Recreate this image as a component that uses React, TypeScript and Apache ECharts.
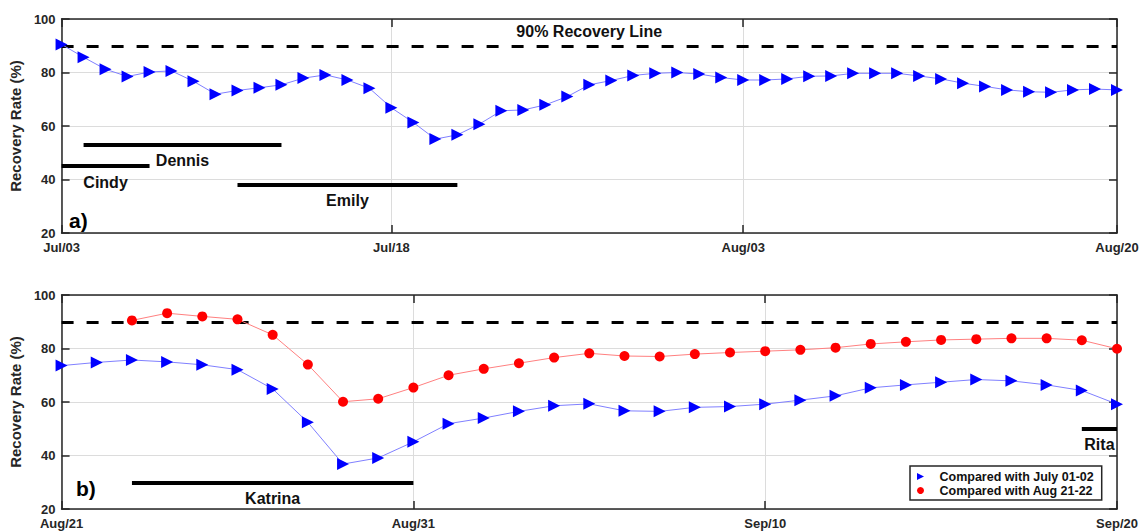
import { useEffect, useRef } from 'react';
import * as echarts from 'echarts';

// ---- Panel a): Jul 03 – Aug 20 ----
const topDays = [
  'Jul/03', 'Jul/04', 'Jul/05', 'Jul/06', 'Jul/07', 'Jul/08', 'Jul/09', 'Jul/10', 'Jul/11', 'Jul/12',
  'Jul/13', 'Jul/14', 'Jul/15', 'Jul/16', 'Jul/17', 'Jul/18', 'Jul/19', 'Jul/20', 'Jul/21', 'Jul/22',
  'Jul/23', 'Jul/24', 'Jul/25', 'Jul/26', 'Jul/27', 'Jul/28', 'Jul/29', 'Jul/30', 'Jul/31', 'Aug/01',
  'Aug/02', 'Aug/03', 'Aug/04', 'Aug/05', 'Aug/06', 'Aug/07', 'Aug/08', 'Aug/09', 'Aug/10', 'Aug/11',
  'Aug/12', 'Aug/13', 'Aug/14', 'Aug/15', 'Aug/16', 'Aug/17', 'Aug/18', 'Aug/19', 'Aug/20',
];
const topTickLabels = ['Jul/03', 'Jul/18', 'Aug/03', 'Aug/20'];
const topRecovery = [
  90.5, 85.7, 81.2, 78.5, 80.2, 80.6, 76.7, 71.9, 73.3, 74.3,
  75.4, 77.9, 79.1, 77.2, 74.1, 66.8, 61.3, 55.1, 56.7, 60.7,
  65.7, 66.0, 67.9, 71.0, 75.4, 77.0, 78.9, 79.7, 80.0, 79.4,
  78.1, 77.2, 77.2, 77.6, 78.6, 78.7, 79.7, 79.7, 79.7, 78.7,
  77.6, 76.0, 74.8, 73.5, 72.8, 72.6, 73.5, 73.8, 73.5,
];
const topStorms = [
  { name: 'Cindy', start: 'Jul/03', end: 'Jul/07', level: 45 },
  { name: 'Dennis', start: 'Jul/04', end: 'Jul/13', level: 53 },
  { name: 'Emily', start: 'Jul/11', end: 'Jul/21', level: 38 },
];

// ---- Panel b): Aug 21 – Sep 20 ----
const bottomDays = [
  'Aug/21', 'Aug/22', 'Aug/23', 'Aug/24', 'Aug/25', 'Aug/26', 'Aug/27', 'Aug/28', 'Aug/29', 'Aug/30',
  'Aug/31', 'Sep/01', 'Sep/02', 'Sep/03', 'Sep/04', 'Sep/05', 'Sep/06', 'Sep/07', 'Sep/08', 'Sep/09',
  'Sep/10', 'Sep/11', 'Sep/12', 'Sep/13', 'Sep/14', 'Sep/15', 'Sep/16', 'Sep/17', 'Sep/18', 'Sep/19',
  'Sep/20',
];
const bottomTickLabels = ['Aug/21', 'Aug/31', 'Sep/10', 'Sep/20'];
const vsJuly = [
  73.6, 74.8, 75.7, 75.0, 73.9, 72.1, 64.9, 52.4, 36.8, 39.1,
  45.1, 51.9, 54.0, 56.5, 58.6, 59.3, 56.7, 56.5, 58.0, 58.3,
  59.2, 60.7, 62.3, 65.3, 66.4, 67.4, 68.4, 67.9, 66.4, 64.3,
  59.2,
];
const vsAugust = [
  null, null, 90.5, 93.2, 92.0, 90.9, 85.1, 74.0, 60.1, 61.2,
  65.4, 70.0, 72.4, 74.5, 76.6, 78.2, 77.2, 77.0, 77.9, 78.5,
  79.0, 79.5, 80.3, 81.7, 82.5, 83.2, 83.5, 83.8, 83.8, 83.1,
  79.9,
];
const bottomStorms = [
  { name: 'Katrina', start: 'Aug/23', end: 'Aug/31', level: 30 },
  { name: 'Rita', start: 'Sep/19', end: 'Sep/20', level: 50 },
];

const recoveryTarget = 90;
const yTicks = { min: 20, max: 100, interval: 20 };

const SERIES_JULY = 'Compared with July 01-02';
const SERIES_AUG = 'Compared with Aug 21-22';

const FONT = 'Liberation Sans, Arial, Helvetica, sans-serif';
const AXIS_COLOR = '#262626';
const GRID_COLOR = '#dcdcdc';
const TRI_RIGHT = 'path://M0,0L10,5L0,10Z';

function xAxes(days: string[], ticks: string[], gridIndex: number) {
  const pick = (_i: number, v: string) => ticks.includes(v);
  const base = {
    type: 'category',
    gridIndex,
    data: days,
    boundaryGap: false,
    axisLine: { show: true, lineStyle: { color: AXIS_COLOR, width: 1.5 } },
    axisTick: { show: true, inside: true, length: 8, interval: pick, lineStyle: { color: AXIS_COLOR, width: 1.5 } },
  };
  return [
    {
      ...base,
      position: 'bottom',
      axisLabel: {
        show: true, interval: pick, margin: 8,
        fontFamily: FONT, fontWeight: 'bold', fontSize: 13, color: AXIS_COLOR,
      },
      splitLine: { show: true, interval: pick, lineStyle: { color: GRID_COLOR, width: 1 } },
    },
    {
      ...base,
      position: 'top',
      axisLabel: { show: false },
      splitLine: { show: false },
    },
  ];
}

function yAxes(gridIndex: number) {
  const base = {
    type: 'value',
    gridIndex,
    ...yTicks,
    axisLine: { show: true, lineStyle: { color: AXIS_COLOR, width: 1.5 } },
    axisTick: { show: true, inside: true, length: 8, lineStyle: { color: AXIS_COLOR, width: 1.5 } },
  };
  return [
    {
      ...base,
      position: 'left',
      name: 'Recovery Rate (%)',
      nameLocation: 'middle',
      nameRotate: 90,
      nameGap: 33,
      nameTextStyle: { fontFamily: FONT, fontWeight: 'bold', fontSize: 15, color: AXIS_COLOR },
      axisLabel: { show: true, margin: 6, fontFamily: FONT, fontWeight: 'bold', fontSize: 13, color: AXIS_COLOR },
      splitLine: { show: true, lineStyle: { color: GRID_COLOR, width: 1 } },
    },
    {
      ...base,
      position: 'right',
      axisLabel: { show: false },
      splitLine: { show: false },
    },
  ];
}

function targetLine(withLabel: boolean) {
  return {
    yAxis: recoveryTarget,
    lineStyle: { color: '#000', type: [12, 13], width: 3 },
    label: withLabel
      ? {
          show: true, position: 'insideMiddleTop', distance: 6,
          formatter: '90% Recovery Line',
          fontFamily: FONT, fontWeight: 'bold', fontSize: 16, color: '#111',
        }
      : { show: false },
  };
}

function stormLines(storms: { name: string; start: string; end: string; level: number }[]) {
  return storms.map((s) => [
    {
      name: s.name,
      coord: [s.start, s.level],
      lineStyle: { color: '#000', type: 'solid', width: 4 },
      label: {
        show: true, position: 'insideMiddleBottom', distance: 8,
        formatter: s.name,
        fontFamily: FONT, fontWeight: 'bold', fontSize: 16, color: '#111',
      },
    },
    { coord: [s.end, s.level] },
  ]);
}

const blueStyle = {
  symbol: TRI_RIGHT,
  symbolSize: 12,
  itemStyle: { color: '#0000ff' },
  lineStyle: { color: '#8080ff', width: 1 },
};

export default function App() {
  const ref = useRef<HTMLDivElement>(null);

  useEffect(() => {
    if (!ref.current) return;
    const chart = echarts.init(ref.current, null, { renderer: 'svg' });

    const option = {
      animation: false,
      backgroundColor: '#fff',
      textStyle: { fontFamily: FONT },
      grid: [
        { left: 58, top: 19, width: 1059, height: 214 },
        { left: 58, top: 295, width: 1059, height: 214 },
      ],
      xAxis: [...xAxes(topDays, topTickLabels, 0), ...xAxes(bottomDays, bottomTickLabels, 1)],
      yAxis: [...yAxes(0), ...yAxes(1)],
      legend: {
        show: true,
        selectedMode: false,
        orient: 'vertical',
        left: 910,
        top: 466,
        padding: [4, 8, 3, 7],
        itemWidth: 28,
        itemHeight: 7,
        itemGap: 1,
        borderColor: AXIS_COLOR,
        borderWidth: 1.5,
        borderRadius: 0,
        backgroundColor: '#fff',
        data: [
          { name: SERIES_JULY, icon: TRI_RIGHT },
          { name: SERIES_AUG, icon: 'circle' },
        ],
        textStyle: { fontFamily: FONT, fontWeight: 'bold', fontSize: 12.5, color: '#111' },
      },
      graphic: [
        { type: 'text', left: 69, top: 210, style: { text: 'a)', font: `bold 21px ${FONT}`, fill: '#000' } },
        { type: 'text', left: 76, top: 478, style: { text: 'b)', font: `bold 21px ${FONT}`, fill: '#000' } },
      ],
      series: [
        {
          type: 'line',
          name: SERIES_JULY,
          xAxisIndex: 0,
          yAxisIndex: 0,
          data: topRecovery,
          clip: false,
          z: 4,
          ...blueStyle,
          markLine: {
            silent: true,
            symbol: 'none',
            z: 3,
            data: [targetLine(true), ...stormLines(topStorms)],
          },
        },
        {
          type: 'line',
          name: SERIES_JULY,
          xAxisIndex: 2,
          yAxisIndex: 2,
          data: vsJuly,
          clip: false,
          z: 4,
          ...blueStyle,
          markLine: {
            silent: true,
            symbol: 'none',
            z: 3,
            data: [targetLine(false), ...stormLines(bottomStorms)],
          },
        },
        {
          type: 'line',
          name: SERIES_AUG,
          xAxisIndex: 2,
          yAxisIndex: 2,
          data: vsAugust,
          clip: false,
          z: 4,
          symbol: 'circle',
          symbolSize: 10,
          itemStyle: { color: '#ff0000' },
          lineStyle: { color: '#ff8080', width: 1 },
        },
      ],
    };

    chart.setOption(option as any);
    return () => chart.dispose();
  }, []);

  return (
    <div
      ref={ref}
      style={{ position: 'absolute', left: 0, top: 0, width: 1142, height: 532 }}
    />
  );
}
